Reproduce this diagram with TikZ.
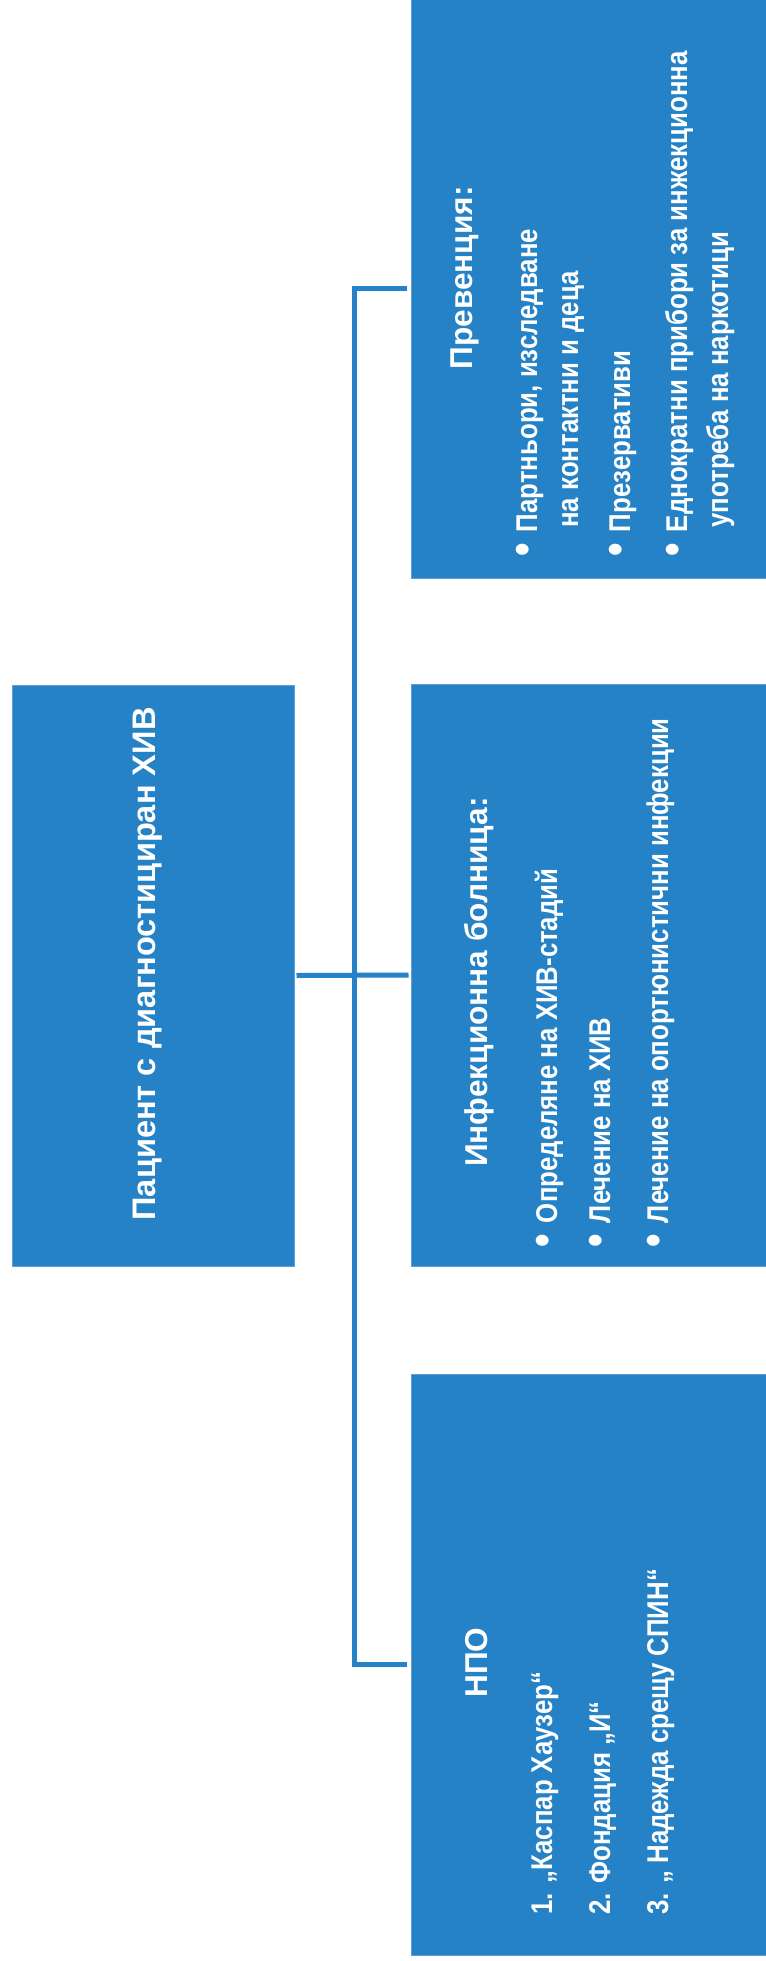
\documentclass[tikz,border=0pt]{standalone}
\usepackage{fontspec}
\setmainfont{Liberation Sans}
\newfontfamily\narrowfont{Liberation Sans}[FakeStretch=0.86]
\usepackage{tikz}
\usetikzlibrary{positioning}
\definecolor{boxblue}{RGB}{38, 130, 198}
\definecolor{boxedge}{RGB}{96, 160, 215}
\newcommand{\bigbullet}{\scalebox{1.5}{•}\hspace{5.5pt}}

\tikzset{
  box/.style={fill=boxblue, draw=boxedge, line width=0.5pt, inner sep=0pt},
  headtxt/.style={rotate=90, text=white, inner sep=0pt, anchor=base,
                  font=\fontsize{15.8}{19}\selectfont\bfseries},
  itemtxt/.style={rotate=90, text=white, inner sep=0pt, anchor=base west,
                  font=\narrowfont\fontsize{15}{18}\selectfont\bfseries},
  link/.style={boxblue, line width=2.5pt}
}

\begin{document}
\begin{tikzpicture}[x=0.5pt, y=-0.5pt]
  \useasboundingbox (0,0) rectangle (766,1961);
  % boxes
  \node[box, minimum width=141pt, minimum height=290.5pt] (root) at (153,975.5) {};
  \node[box, minimum width=178pt, minimum height=290pt] (prev) at (589,288) {};
  \node[box, minimum width=178pt, minimum height=291pt] (inf) at (589,975) {};
  \node[box, minimum width=178pt, minimum height=290.5pt] (npo) at (589,1664.5) {};
  % connectors
  \coordinate (bus) at (354.5,975.5);
  \draw[link, shorten <=1pt, shorten >=1pt] (root.east) -- (inf.west);
  \draw[link, shorten <=2pt] (prev.west) -| (bus);
  \draw[link, shorten >=2pt] (bus) |- (npo.west);
  % root
  \node[headtxt, font=\fontsize{16.3}{19}\selectfont\bfseries] (roottxt) at (155,964)
       {Пациент с диагностициран ХИВ};
  % prevention
  \node[headtxt] (prevhead) at (472,278) {Превенция:};
  \foreach \bx/\by/\txt [count=\i] in {537/557/{\bigbullet Партньори, изследване},
      578/528/{на контактни и деца}, 630/557/{\bigbullet Презервативи},
      687/557/{\bigbullet Еднократни прибори за инжекционна},
      728/528/{употреба на наркотици}}
    \node[itemtxt] (prevline\i) at (\bx,\by) {\txt};
  % hospital
  \node[headtxt] (infhead) at (487,982) {Инфекционна болница:};
  \foreach \bx/\txt [count=\i] in {557/{Определяне на ХИВ-стадий},
      610/{Лечение на ХИВ}, 668/{Лечение на опортюнистични инфекции}}
    \node[itemtxt] (infline\i) at (\bx,1248) {\bigbullet\txt};
  % ngo
  \node[headtxt] (npohead) at (487,1662.5) {НПО};
  \foreach \bx/\txt [count=\i] in {552/{1. „Каспар Хаузер“},
      610/{2. Фондация „И“}, 668/{3. „ Надежда срещу СПИН“}}
    \node[itemtxt] (npoline\i) at (\bx,1915) {\txt};
\end{tikzpicture}
\end{document}
